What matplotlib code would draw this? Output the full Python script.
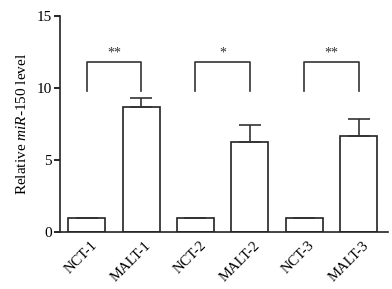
import numpy as np
import matplotlib
matplotlib.use("Agg")
import matplotlib.pyplot as plt

plt.rcParams['font.family'] = 'Liberation Serif'
plt.rcParams['mathtext.fontset'] = 'custom'
plt.rcParams['mathtext.rm'] = 'Liberation Serif'
plt.rcParams['mathtext.it'] = 'Liberation Serif:italic'

labels = ['NCT-1', 'MALT-1', 'NCT-2', 'MALT-2', 'NCT-3', 'MALT-3']
values = [1.0, 8.7, 1.0, 6.27, 1.0, 6.65]
errors = [0.0, 0.6, 0.0, 1.15, 0.0, 1.17]
pairs = [(0, 1), (2, 3), (4, 5)]
stars = ['**', '*', '**']
bracket_top = 11.8
bracket_bottom = 9.8

fig = plt.figure(figsize=(3.92, 2.89), dpi=100)
ax = fig.add_axes([0.153, 0.197, 0.837, 0.748])

x = np.arange(len(labels))
ax.bar(x, values, width=0.68, color='white', edgecolor='#222222', linewidth=1.2,
       yerr=[np.zeros(len(errors)), errors], error_kw=dict(ecolor='#333333', elinewidth=1.2, capsize=8, capthick=1.2))

for (a, b), s in zip(pairs, stars):
    ax.plot([a, a, b, b], [bracket_bottom, bracket_top, bracket_top, bracket_bottom],
            color='#333333', linewidth=1.2)
    ax.text((a + b) / 2, bracket_top + 0.15, s, ha='center', va='bottom', fontsize=10, color='#333333')

ax.set_xlim(-0.49, 5.54)
ax.set_ylim(0, 15)
ax.set_yticks([0, 5, 10, 15])
ax.set_xticks(x + 0.07)
ax.set_xticklabels(labels, rotation=45, ha='right', rotation_mode='anchor', fontsize=10.5)
ax.tick_params(axis='y', labelsize=11, length=4, width=1.2, pad=2)
ax.tick_params(axis='x', length=0, pad=5)
for sp in ['top', 'right']:
    ax.spines[sp].set_visible(False)
for sp in ['left', 'bottom']:
    ax.spines[sp].set_linewidth(1.2)
    ax.spines[sp].set_color('#222222')
ax.set_ylabel(r'Relative $\mathit{miR}$-150 level', fontsize=11, labelpad=5)

fig.savefig('out.png', dpi=100)
